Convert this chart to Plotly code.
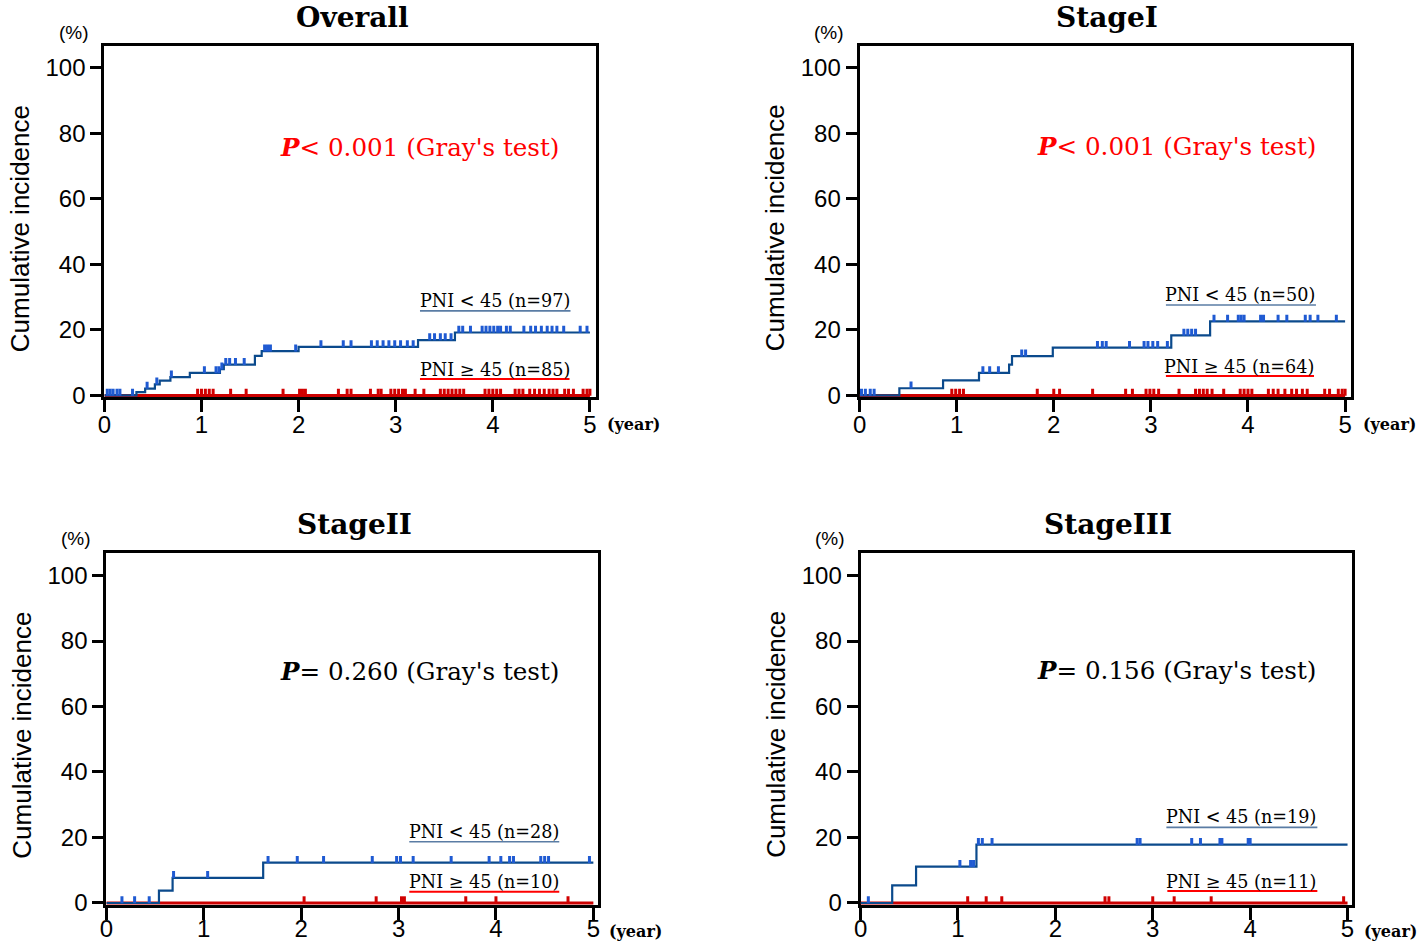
import numpy as np
import plotly.graph_objects as go

# ---------------- data ----------------
year_ticks = [0, 1, 2, 3, 4, 5]
pct_ticks = [0, 20, 40, 60, 80, 100]

panel_titles = ["Overall", "StageI", "StageII", "StageIII"]
p_texts = ["<b><i>P</i></b>&lt; 0.001 (Gray's test)",
           "<b><i>P</i></b>&lt; 0.001 (Gray's test)",
           "<b><i>P</i></b>= 0.260 (Gray's test)",
           "<b><i>P</i></b>= 0.156 (Gray's test)"]
p_colors = ["#ff0000", "#ff0000", "#000000", "#000000"]
low_labels = ["PNI &lt; 45 (n=97)", "PNI &lt; 45 (n=50)", "PNI &lt; 45 (n=28)", "PNI &lt; 45 (n=19)"]
high_labels = ["PNI ≥ 45 (n=85)", "PNI ≥ 45 (n=64)", "PNI ≥ 45 (n=10)", "PNI ≥ 45 (n=11)"]

# PNI < 45 cumulative incidence steps (time in years, %)
overall_low_t = [0, 0.33, 0.42, 0.52, 0.57, 0.68, 0.88, 1.19, 1.23, 1.55, 1.62, 2.00, 3.23, 3.61, 5.0]
overall_low_y = [0, 1.0, 2.1, 3.4, 4.5, 5.6, 6.9, 8.0, 9.4, 12.1, 13.5, 14.8, 16.9, 19.2, 19.2]
stage1_low_t = [0, 0.41, 0.86, 1.23, 1.54, 1.57, 1.99, 3.21, 3.61, 5.0]
stage1_low_y = [0, 2.2, 4.6, 6.9, 9.4, 12.0, 14.6, 18.3, 22.6, 22.6]
stage2_low_t = [0, 0.54, 0.68, 1.61, 5.0]
stage2_low_y = [0, 3.8, 7.7, 12.3, 12.3]
stage3_low_t = [0, 0.325, 0.57, 1.19, 5.0]
stage3_low_y = [0, 5.4, 11.1, 17.8, 17.8]

# PNI >= 45 cumulative incidence steps (no events)
overall_high_t = [0, 5.0]
overall_high_y = [0, 0]
stage1_high_t = [0, 5.0]
stage1_high_y = [0, 0]
stage2_high_t = [0, 5.0]
stage2_high_y = [0, 0]
stage3_high_t = [0, 5.0]
stage3_high_y = [0, 0]

# censoring times (years)
overall_low_cens = [0.03, 0.06, 0.09, 0.13, 0.16, 0.29, 0.44, 0.54, 0.69, 1.03, 1.15, 1.18, 1.21, 1.25,
                    1.29, 1.35, 1.44, 1.65, 1.68, 1.71, 1.97, 2.23, 2.46, 2.54, 2.75, 2.81, 2.87, 2.93,
                    2.99, 3.05, 3.12, 3.18, 3.35, 3.40, 3.46, 3.51, 3.57, 3.65, 3.69, 3.77, 3.89, 3.93,
                    3.97, 4.01, 4.05, 4.08, 4.14, 4.18, 4.32, 4.39, 4.44, 4.50, 4.56, 4.61, 4.66, 4.73,
                    4.90, 4.97]
overall_high_cens = [0.96, 1.00, 1.04, 1.08, 1.12, 1.30, 1.46, 1.84, 2.01, 2.04, 2.07, 2.41, 2.50, 2.54,
                     2.74, 2.82, 2.85, 2.95, 2.99, 3.03, 3.07, 3.10, 3.20, 3.29, 3.46, 3.50, 3.54, 3.58,
                     3.62, 3.66, 3.70, 3.92, 3.96, 4.00, 4.04, 4.08, 4.23, 4.27, 4.31, 4.38, 4.43, 4.48,
                     4.53, 4.58, 4.62, 4.66, 4.74, 4.78, 4.83, 4.93, 4.97, 5.00]
stage1_low_cens = [0.02, 0.06, 0.11, 0.15, 0.53, 1.27, 1.34, 1.43, 1.67, 1.71, 2.45, 2.50, 2.54, 2.78,
                   2.93, 2.97, 3.02, 3.07, 3.17, 3.34, 3.38, 3.42, 3.46, 3.65, 3.79, 3.90, 3.93, 3.96,
                   4.13, 4.16, 4.31, 4.40, 4.59, 4.64, 4.72, 4.91]
stage1_high_cens = [0.95, 0.99, 1.03, 1.07, 1.83, 2.00, 2.06, 2.40, 2.74, 2.81, 2.95, 2.99, 3.03, 3.08,
                    3.29, 3.46, 3.50, 3.54, 3.58, 3.63, 3.75, 3.92, 3.96, 4.00, 4.04, 4.21, 4.26, 4.31,
                    4.38, 4.45, 4.50, 4.56, 4.61, 4.79, 4.84, 4.93, 4.97, 5.00]
stage2_low_cens = [0.16, 0.29, 0.44, 0.69, 1.04, 1.66, 1.96, 2.23, 2.73, 2.98, 3.02, 3.15, 3.54, 3.93,
                   4.05, 4.14, 4.18, 4.46, 4.50, 4.54, 4.96]
stage2_high_cens = [2.03, 2.77, 3.03, 3.06, 3.69, 4.00, 4.74]
stage3_low_cens = [0.08, 1.02, 1.13, 1.16, 1.21, 1.25, 1.35, 2.84, 2.87, 3.40, 3.49, 3.69, 3.71, 3.98, 4.00]
stage3_high_cens = [1.10, 1.29, 1.45, 2.51, 2.55, 3.00, 3.22, 3.60, 4.96]

low_t = [overall_low_t, stage1_low_t, stage2_low_t, stage3_low_t]
low_y = [overall_low_y, stage1_low_y, stage2_low_y, stage3_low_y]
high_t = [overall_high_t, stage1_high_t, stage2_high_t, stage3_high_t]
high_y = [overall_high_y, stage1_high_y, stage2_high_y, stage3_high_y]
low_cens = [overall_low_cens, stage1_low_cens, stage2_low_cens, stage3_low_cens]
high_cens = [overall_high_cens, stage1_high_cens, stage2_high_cens, stage3_high_cens]

# ---------------- layout geometry ----------------
REF_W, REF_H = 1418, 942      # reference picture size (positions below are in its pixels)
W, H = 1418, 954              # figure size


def fx(px):  # reference pixel -> paper x
    return px / REF_W


def fy(py):  # reference pixel -> paper y
    return 1 - py / REF_H


# plot boxes in reference pixels: left, right, top, bottom
boxes = [(98, 592.5, 46, 397), (858, 1352.5, 46, 397), (100, 595, 552, 904), (859, 1354, 552, 904)]
x_ranges = [[0, 5.06], [0, 5.06], [0, 5.05], [0, 5.05]]
y_ranges = [[-0.6, 106.6], [-0.6, 106.6], [-0.6, 107.0], [-0.6, 107.0]]
label_standoff = [-8, -8, -12, -12]

# annotation placements (data coords)
p_pos = [(3.24, 75.5), (3.26, 75.8), (3.21, 70.6), (3.24, 71.1)]
low_pos = [(4.02, 28.8), (3.92, 30.6), (3.88, 21.7), (3.91, 26.2)]
high_pos = [(4.02, 7.8), (3.91, 8.7), (3.88, 6.4), (3.91, 6.5)]
low_ul = [(3.25, 4.80, 25.8), (3.155, 4.70, 27.6), (3.11, 4.65, 18.7), (3.14, 4.69, 23.1)]
high_ul = [(3.25, 4.79, 5.0), (3.155, 4.68, 5.95), (3.11, 4.65, 3.4), (3.15, 4.69, 3.7)]

BLUE_LINE = "#0b4a8c"
BLUE_MARK = "#1f5ad2"
RED_LINE = "#cc0000"
RED_MARK = "#d10000"
SERIF = "DejaVu Serif"
SANS = "Liberation Sans"


def step_value(ts, ys, t):
    idx = np.searchsorted(np.asarray(ts), np.asarray(t), side="right") - 1
    return np.asarray(ys)[np.clip(idx, 0, len(ys) - 1)]


fig = go.Figure()
annotations = []
shapes = []
layout_axes = {}

for k in range(4):
    sfx = "" if k == 0 else str(k + 1)
    xref, yref = "x" + sfx, "y" + sfx
    L, R, T, B = boxes[k]

    fig.add_trace(go.Scatter(x=high_t[k], y=high_y[k], mode="lines", line=dict(color=RED_LINE, width=3, shape="hv"),
                             xaxis=xref, yaxis=yref, showlegend=False, hoverinfo="skip"))
    fig.add_trace(go.Scatter(x=low_t[k], y=low_y[k], mode="lines", line=dict(color=BLUE_LINE, width=2.2, shape="hv"),
                             xaxis=xref, yaxis=yref, showlegend=False, hoverinfo="skip"))
    yspan = y_ranges[k][1] - y_ranges[k][0]
    off = 3.2 * yspan / (B - T)
    hc = np.asarray(high_cens[k])
    fig.add_trace(go.Scatter(x=hc, y=step_value(high_t[k], high_y[k], hc) + off, mode="markers",
                             marker=dict(symbol="line-ns", size=5, line=dict(color=RED_MARK, width=3)),
                             xaxis=xref, yaxis=yref, showlegend=False, hoverinfo="skip"))
    lc = np.asarray(low_cens[k])
    fig.add_trace(go.Scatter(x=lc, y=step_value(low_t[k], low_y[k], lc) + off, mode="markers",
                             marker=dict(symbol="line-ns", size=5, line=dict(color=BLUE_MARK, width=3)),
                             xaxis=xref, yaxis=yref, showlegend=False, hoverinfo="skip"))

    layout_axes["xaxis" + sfx] = dict(
        domain=[fx(L), fx(R)], range=x_ranges[k], anchor=yref, tickvals=year_ticks,
        ticks="outside", ticklen=12, tickwidth=3, tickcolor="black", ticklabelstandoff=label_standoff[k],
        showline=True, linewidth=3, linecolor="black", mirror=True,
        showgrid=False, zeroline=False, layer="below traces",
        tickfont=dict(family=SANS, size=24, color="black"), fixedrange=True)
    layout_axes["yaxis" + sfx] = dict(
        domain=[fy(B), fy(T)], range=y_ranges[k], anchor=xref, tickvals=pct_ticks,
        ticks="outside", ticklen=11, tickwidth=3, tickcolor="black",
        showline=True, linewidth=3, linecolor="black", mirror=True,
        showgrid=False, zeroline=False, layer="below traces",
        tickfont=dict(family=SANS, size=24, color="black"), fixedrange=True)

    annotations.append(dict(text="<b>" + panel_titles[k] + "</b>", xref="paper", yref="paper",
                            x=fx((L + R) / 2 + 2), y=fy(T - 46), xanchor="center", yanchor="top",
                            borderpad=0, showarrow=False, font=dict(family=SERIF, size=28, color="black")))
    annotations.append(dict(text="(%)", xref="paper", yref="paper", x=fx(L - 31), y=fy(T - 14),
                            xanchor="center", yanchor="middle", showarrow=False,
                            font=dict(family=SANS, size=19, color="black")))
    annotations.append(dict(text="<b>(year)</b>", xref="paper", yref="paper", x=fx(L + 533), y=fy(B + 27),
                            xanchor="center", yanchor="middle", showarrow=False,
                            font=dict(family=SERIF, size=16, color="black")))
    annotations.append(dict(text="Cumulative incidence", xref="paper", yref="paper", x=fx(L - 85),
                            y=fy(T + 182), xanchor="center", yanchor="middle", textangle=-90,
                            showarrow=False, font=dict(family=SANS, size=26, color="black")))
    annotations.append(dict(text=p_texts[k], xref=xref, yref=yref, x=p_pos[k][0], y=p_pos[k][1],
                            xanchor="center", yanchor="middle", showarrow=False,
                            font=dict(family=SERIF, size=24.6, color=p_colors[k])))
    annotations.append(dict(text=low_labels[k], xref=xref, yref=yref, x=low_pos[k][0], y=low_pos[k][1],
                            xanchor="center", yanchor="middle", showarrow=False,
                            font=dict(family=SERIF, size=17.6, color="black")))
    annotations.append(dict(text=high_labels[k], xref=xref, yref=yref, x=high_pos[k][0], y=high_pos[k][1],
                            xanchor="center", yanchor="middle", showarrow=False,
                            font=dict(family=SERIF, size=17.6, color="black")))
    x0, x1, yy = low_ul[k]
    shapes.append(dict(type="line", xref=xref, yref=yref, x0=x0, x1=x1, y0=yy, y1=yy,
                       line=dict(color="#5a7ca4", width=1.6)))
    x0, x1, yy = high_ul[k]
    shapes.append(dict(type="line", xref=xref, yref=yref, x0=x0, x1=x1, y0=yy, y1=yy,
                       line=dict(color="#ff0000", width=2)))

fig.update_layout(width=W, height=H, margin=dict(l=0, r=0, t=0, b=0),
                  paper_bgcolor="white", plot_bgcolor="white",
                  annotations=annotations, shapes=shapes, **layout_axes)

page_fix = ("document.documentElement.style.margin='0';document.body.style.margin='0';"
            "document.documentElement.style.overflow='hidden';document.body.style.overflow='hidden';")
fig.write_html("out.html", config={"displayModeBar": False}, post_script=page_fix)
